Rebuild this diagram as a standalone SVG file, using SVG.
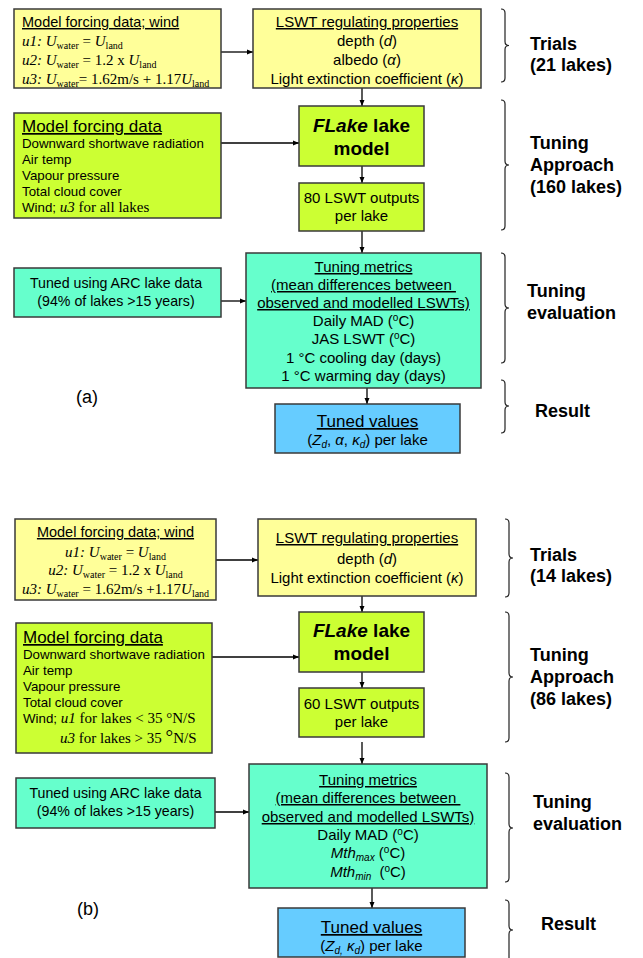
<svg xmlns="http://www.w3.org/2000/svg" width="643" height="958" viewBox="0 0 643 958">
<style>
.bx{stroke:#3a3a3a;stroke-width:1.5}
.y{fill:#FFFF99}.g{fill:#CCFF33}.t{fill:#66FFCC}.b{fill:#66CCFF}
.ar{font-family:"Liberation Sans",Arial,sans-serif;fill:#000}
.tm{font-family:"Liberation Serif","Times New Roman",serif;font-size:15px;fill:#000}
.u{text-decoration:underline}
.c{text-anchor:middle}
.i{font-style:italic}
.sb{font-size:10px}
.hd{font-weight:bold;font-size:18px}
.cn{stroke:#000;stroke-width:1.3;fill:none;marker-end:url(#ah)}
.br{stroke:#222;stroke-width:1.2;fill:none}
</style>
<defs>
<marker id="ah" markerWidth="6" markerHeight="6" refX="6" refY="3" orient="auto" markerUnits="userSpaceOnUse"><path d="M0,0.5 L6,3 L0,5.5 z" fill="#000"/></marker>
</defs>
<rect width="643" height="958" fill="#fff"/>

<g id="connectors">
<path class="cn" d="M221,52 H253"/>
<path class="cn" d="M362,88 V106"/>
<path class="cn" d="M221,143 H299"/>
<path class="cn" d="M362,166 V183"/>
<path class="cn" d="M362,231 V253"/>
<path class="cn" d="M221,301 H246"/>
<path class="cn" d="M367,388 V404"/>
<path class="cn" d="M216,560 H258"/>
<path class="cn" d="M362,596 V612"/>
<path class="cn" d="M212,657 H299"/>
<path class="cn" d="M362,672 V688"/>
<path class="cn" d="M362,742 V764"/>
<path class="cn" d="M215,812 H249"/>
<path class="cn" d="M372,888 V908"/>
</g>

<!-- Panel (a) -->
<g id="a-wind">
<rect class="bx y" x="14" y="9" width="207" height="79"/>
<text class="ar u" x="22" y="27" font-size="14.5">Model forcing data; wind</text>
<text class="tm" x="22" y="46"><tspan class="i">u1: U</tspan><tspan class="sb" dy="3">water</tspan><tspan dy="-3"> = </tspan><tspan class="i">U</tspan><tspan class="sb" dy="3">land</tspan></text>
<text class="tm" x="22" y="65"><tspan class="i">u2: U</tspan><tspan class="sb" dy="3">water</tspan><tspan dy="-3"> = 1.2 x </tspan><tspan class="i">U</tspan><tspan class="sb" dy="3">land</tspan></text>
<text class="tm" x="22" y="84"><tspan class="i">u3: U</tspan><tspan class="sb" dy="3">water</tspan><tspan dy="-3">= 1.62m/s + 1.17</tspan><tspan class="i">U</tspan><tspan class="sb" dy="3">land</tspan></text>
</g>

<g id="a-lswt">
<rect class="bx y" x="253" y="9" width="228" height="79"/>
<text class="ar c u" x="367" y="27" font-size="15">LSWT regulating properties</text>
<text class="ar c" x="367" y="46" font-size="15">depth (<tspan class="i">d</tspan>)</text>
<text class="ar c" x="367" y="65" font-size="15">albedo (<tspan class="i">α</tspan>)</text>
<text class="ar c" x="367" y="84" font-size="15">Light extinction coefficient (<tspan class="i">κ</tspan>)</text>
</g>

<g id="a-forcing">
<rect class="bx g" x="14" y="113" width="207" height="105"/>
<text class="ar u" x="22" y="132" font-size="17">Model forcing data</text>
<text class="ar" x="22" y="148" font-size="13.3">Downward shortwave radiation</text>
<text class="ar" x="22" y="164" font-size="13.3">Air temp</text>
<text class="ar" x="22" y="180" font-size="13.3">Vapour pressure</text>
<text class="ar" x="22" y="196" font-size="13.3">Total cloud cover</text>
<text class="ar" x="22" y="212" font-size="13.3">Wind; <tspan class="tm i" font-size="13.5">u3</tspan><tspan class="tm" font-size="13.5"> for all lakes</tspan></text>
</g>

<g id="a-flake">
<rect class="bx g" x="299" y="106" width="125" height="60"/>
<text class="ar c" x="361.5" y="132" font-size="19" font-weight="bold"><tspan class="i">FLake</tspan> lake</text>
<text class="ar c" x="361.5" y="155" font-size="19" font-weight="bold">model</text>
</g>

<g id="a-outputs">
<rect class="bx g" x="299" y="183" width="125" height="48"/>
<text class="ar c" x="361.5" y="203" font-size="15">80 LSWT outputs</text>
<text class="ar c" x="361.5" y="221" font-size="15">per lake</text>
</g>

<g id="a-arc">
<rect class="bx t" x="14" y="268" width="207" height="49"/>
<text class="ar c" x="116" y="288" font-size="14.2">Tuned using ARC lake data</text>
<text class="ar c" x="116" y="306" font-size="14.2">(94% of lakes &gt;15 years)</text>
</g>

<g id="a-metrics">
<rect class="bx t" x="246" y="253" width="235" height="135"/>
<text class="ar c u" x="363.5" y="272" font-size="15">Tuning metrics</text>
<text class="ar c u" x="363.5" y="290" font-size="15" xml:space="preserve">(mean differences between </text>
<text class="ar c u" x="363.5" y="308" font-size="15">observed and modelled LSWTs)</text>
<text class="ar c" x="363.5" y="326" font-size="15">Daily MAD (<tspan font-size="10" dy="-5">o</tspan><tspan dy="5">C)</tspan></text>
<text class="ar c" x="363.5" y="344" font-size="15">JAS LSWT (<tspan font-size="10" dy="-5">o</tspan><tspan dy="5">C)</tspan></text>
<text class="ar c" x="363.5" y="363" font-size="15">1 °C cooling day (days)</text>
<text class="ar c" x="363.5" y="381" font-size="15">1 °C warming day (days)</text>
</g>

<g id="a-result">
<rect class="bx b" x="275" y="404" width="185" height="49"/>
<text class="ar c u" x="367.5" y="427" font-size="17">Tuned values</text>
<text class="ar c" x="367.5" y="445" font-size="15">(<tspan class="i">Z</tspan><tspan class="i" font-size="10" dy="3">d</tspan><tspan dy="-3">, </tspan><tspan class="i">α</tspan>, <tspan class="i">κ</tspan><tspan class="i" font-size="10" dy="3">d</tspan><tspan dy="-3">) per lake</tspan></text>
</g>

<text id="a-label" class="ar" x="76" y="403" font-size="18">(a)</text>

<g id="a-braces">
<path class="br" d="M501,9 Q505,9 505,13 L505,41.5 Q505,45.5 509,45.5 Q505,45.5 505,49.5 L505,78 Q505,82 501,82"/>
<path class="br" d="M501,100 Q505,100 505,104 L505,161 Q505,165 509,165 Q505,165 505,169 L505,226 Q505,230 501,230"/>
<path class="br" d="M501,253 Q505,253 505,257 L505,304 Q505,308 509,308 Q505,308 505,312 L505,359 Q505,363 501,363"/>
<path class="br" d="M501,380 Q505,380 505,384 L505,402 Q505,406 509,406 Q505,406 505,410 L505,429 Q505,433 501,433"/>
<text class="ar hd" x="530" y="50">Trials</text>
<text class="ar hd" x="530" y="71">(21 lakes)</text>
<text class="ar hd" x="530" y="149">Tuning</text>
<text class="ar hd" x="530" y="171">Approach</text>
<text class="ar hd" x="530" y="193">(160 lakes)</text>
<text class="ar hd" x="527" y="297">Tuning</text>
<text class="ar hd" x="527" y="319">evaluation</text>
<text class="ar hd" x="535" y="417">Result</text>
</g>

<!-- Panel (b) -->
<g id="b-wind">
<rect class="bx y" x="15" y="519" width="201" height="81"/>
<text class="ar c u" x="115.5" y="537" font-size="14.5">Model forcing data; wind</text>
<text class="tm c" x="115.5" y="557"><tspan class="i">u1: U</tspan><tspan class="sb" dy="3">water</tspan><tspan dy="-3"> = </tspan><tspan class="i">U</tspan><tspan class="sb" dy="3">land</tspan></text>
<text class="tm c" x="115.5" y="575"><tspan class="i">u2: U</tspan><tspan class="sb" dy="3">water</tspan><tspan dy="-3"> = 1.2 x </tspan><tspan class="i">U</tspan><tspan class="sb" dy="3">land</tspan></text>
<text class="tm c" x="115.5" y="594"><tspan class="i">u3: U</tspan><tspan class="sb" dy="3">water</tspan><tspan dy="-3"> = 1.62m/s +1.17</tspan><tspan class="i">U</tspan><tspan class="sb" dy="3">land</tspan></text>
</g>

<g id="b-lswt">
<rect class="bx y" x="258" y="519" width="218" height="77"/>
<text class="ar c u" x="367" y="543" font-size="15">LSWT regulating properties</text>
<text class="ar c" x="367" y="564" font-size="15">depth (<tspan class="i">d</tspan>)</text>
<text class="ar c" x="367" y="583" font-size="15">Light extinction coefficient (<tspan class="i">κ</tspan>)</text>
</g>

<g id="b-forcing">
<rect class="bx g" x="16" y="623" width="196" height="130"/>
<text class="ar u" x="23" y="643" font-size="17">Model forcing data</text>
<text class="ar" x="23" y="659" font-size="13.3">Downward shortwave radiation</text>
<text class="ar" x="23" y="675" font-size="13.3">Air temp</text>
<text class="ar" x="23" y="691" font-size="13.3">Vapour pressure</text>
<text class="ar" x="23" y="707" font-size="13.3">Total cloud cover</text>
<text class="ar" x="23" y="723" font-size="13.3">Wind; <tspan class="tm i" font-size="13.5">u1</tspan><tspan class="tm" font-size="13.5"> for lakes &lt; 35 °N/S</tspan></text>
<text class="tm" x="60" y="743" font-size="13.5"><tspan class="i">u3</tspan> for lakes &gt; 35 <tspan font-size="19">°</tspan>N/S</text>
</g>

<g id="b-flake">
<rect class="bx g" x="299" y="612" width="125" height="60"/>
<text class="ar c" x="361.5" y="637" font-size="19" font-weight="bold"><tspan class="i">FLake</tspan> lake</text>
<text class="ar c" x="361.5" y="660" font-size="19" font-weight="bold">model</text>
</g>

<g id="b-outputs">
<rect class="bx g" x="299" y="688" width="125" height="49"/>
<text class="ar c" x="361.5" y="709" font-size="15">60 LSWT outputs</text>
<text class="ar c" x="361.5" y="727" font-size="15">per lake</text>
</g>

<g id="b-arc">
<rect class="bx t" x="16" y="778" width="199" height="50"/>
<text class="ar c" x="115.5" y="798" font-size="14.2">Tuned using ARC lake data</text>
<text class="ar c" x="115.5" y="816" font-size="14.2">(94% of lakes &gt;15 years)</text>
</g>

<g id="b-metrics">
<rect class="bx t" x="249" y="764" width="238" height="124"/>
<text class="ar c u" x="368" y="785" font-size="15">Tuning metrics</text>
<text class="ar c u" x="368" y="803" font-size="15" xml:space="preserve">(mean differences between </text>
<text class="ar c u" x="368" y="822" font-size="15">observed and modelled LSWTs)</text>
<text class="ar c" x="368" y="840" font-size="15">Daily MAD (<tspan font-size="10" dy="-5">o</tspan><tspan dy="5">C)</tspan></text>
<text class="ar c" x="368" y="858" font-size="15"><tspan class="i">Mth</tspan><tspan class="i" font-size="10" dy="3">max</tspan><tspan dy="-3"> (</tspan><tspan font-size="10" dy="-5">o</tspan><tspan dy="5">C)</tspan></text>
<text class="ar c" x="368" y="877" font-size="15"><tspan class="i">Mth</tspan><tspan class="i" font-size="10" dy="3">min</tspan><tspan dy="-3" dx="4"> (</tspan><tspan font-size="10" dy="-5">o</tspan><tspan dy="5">C)</tspan></text>
</g>

<g id="b-result">
<rect class="bx b" x="278" y="908" width="187" height="49"/>
<text class="ar c u" x="371.5" y="933" font-size="17">Tuned values</text>
<text class="ar c" x="371.5" y="951" font-size="15">(<tspan class="i">Z</tspan><tspan class="i" font-size="10" dy="3">d,</tspan><tspan dy="-3"> </tspan><tspan class="i">κ</tspan><tspan class="i" font-size="10" dy="3">d</tspan><tspan dy="-3">) per lake</tspan></text>
</g>

<text id="b-label" class="ar" x="77" y="915" font-size="18">(b)</text>

<g id="b-braces">
<path class="br" d="M505,519 Q509,519 509,523 L509,554 Q509,558 513,558 Q509,558 509,562 L509,593 Q509,597 505,597"/>
<path class="br" d="M505,612 Q509,612 509,616 L509,673 Q509,677 513,677 Q509,677 509,681 L509,738 Q509,742 505,742"/>
<path class="br" d="M505,773 Q509,773 509,777 L509,824 Q509,828 513,828 Q509,828 509,832 L509,878 Q509,882 505,882"/>
<path class="br" d="M505,900 Q509,900 509,904 L509,926 Q509,930 513,930 Q509,930 509,934 L509,962"/>
<text class="ar hd" x="530" y="561">Trials</text>
<text class="ar hd" x="530" y="582">(14 lakes)</text>
<text class="ar hd" x="530" y="661">Tuning</text>
<text class="ar hd" x="530" y="683">Approach</text>
<text class="ar hd" x="530" y="705">(86 lakes)</text>
<text class="ar hd" x="533" y="808">Tuning</text>
<text class="ar hd" x="533" y="830">evaluation</text>
<text class="ar hd" x="541" y="930">Result</text>
</g>
</svg>
